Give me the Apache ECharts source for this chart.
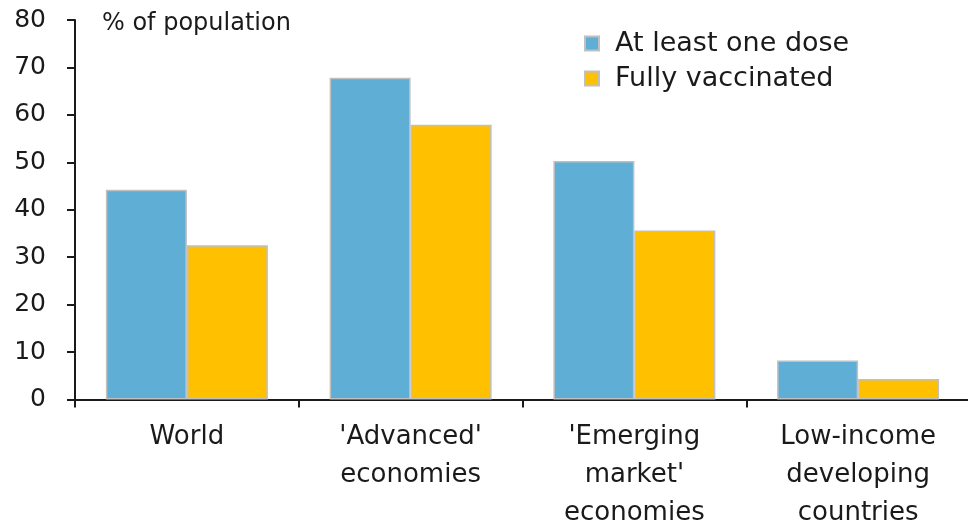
<!DOCTYPE html>
<html>
<head>
<meta charset="utf-8">
<script src="https://cdn.jsdelivr.net/npm/echarts@6/dist/echarts.min.js"></script>
<style>
html, body { margin: 0; padding: 0; background: #fff; }
#main { width: 968px; height: 525px; }
</style>
</head>
<body>
<div id="main"></div>
<script>
// 数据
var categories = ["World", "'Advanced'\neconomies", "'Emerging\nmarket'\neconomies", "Low-income\ndeveloping\ncountries"];
var atLeastOneDose = [44.2, 67.8, 50.3, 8.2];
var fullyVaccinated = [32.5, 57.9, 35.6, 4.3];
var yTicks = [0, 80, 10]; // min, max, interval

var font = 'DejaVu Sans';
var chart = echarts.init(document.getElementById('main'));
var option = {
    backgroundColor: '#ffffff',
    textStyle: { fontFamily: font, color: '#1a1a1a' },
    title: {
        text: '% of population',
        left: 97,
        top: 7,
        textStyle: { fontFamily: font, fontSize: 24, fontWeight: 'normal', color: '#1a1a1a' }
    },
    legend: {
        orient: 'vertical',
        left: 579,
        top: 25,
        itemWidth: 14,
        itemHeight: 14,
        itemGap: 8,
        icon: 'rect',
        textStyle: { fontFamily: font, fontSize: 27, color: '#1a1a1a', padding: [0, 0, 0, 11] },
        data: ['At least one dose', 'Fully vaccinated']
    },
    grid: { left: 75, top: 20, width: 895, height: 379.5, outerBoundsMode: 'none' },
    xAxis: {
        type: 'category',
        data: categories,
        axisLine: { lineStyle: { color: '#1a1a1a', width: 2 } },
        axisTick: { show: true, length: 8, lineStyle: { color: '#1a1a1a', width: 2 } },
        axisLabel: { fontFamily: font, fontSize: 26, color: '#1a1a1a', lineHeight: 38, margin: 19, interval: 0 }
    },
    yAxis: {
        type: 'value',
        min: yTicks[0],
        max: yTicks[1],
        interval: yTicks[2],
        axisLine: { show: true, lineStyle: { color: '#1a1a1a', width: 2 } },
        axisTick: { show: true, length: 8, lineStyle: { color: '#1a1a1a', width: 2 } },
        axisLabel: { fontFamily: font, fontSize: 25, color: '#1a1a1a', margin: 29 },
        splitLine: { show: false }
    },
    series: [
        {
            name: 'At least one dose',
            type: 'bar',
            data: atLeastOneDose,
            barWidth: 81,
            barGap: '0%',
            itemStyle: { color: '#5eaed6', borderColor: '#c0c0c0', borderWidth: 1.5 }
        },
        {
            name: 'Fully vaccinated',
            type: 'bar',
            data: fullyVaccinated,
            barWidth: 81,
            itemStyle: { color: '#ffc000', borderColor: '#c0c0c0', borderWidth: 1.5 }
        }
    ]
};
chart.setOption(option);
</script>
</body>
</html>
